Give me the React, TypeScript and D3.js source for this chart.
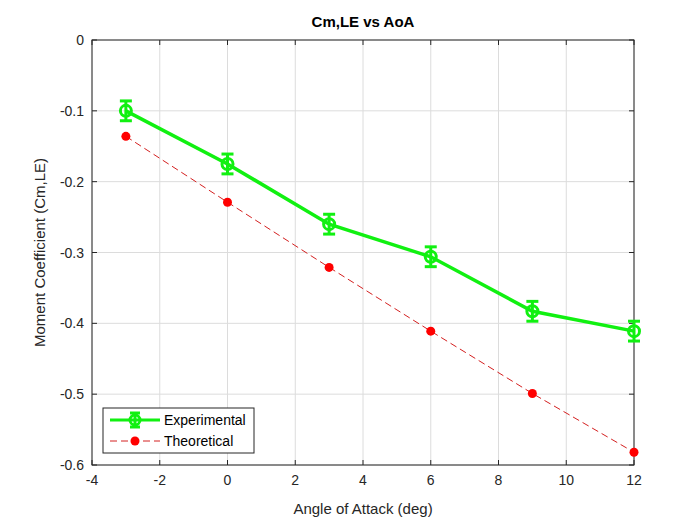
import React from "react";
import * as d3 from "d3";

const aoa = [-3, 0, 3, 6, 9, 12];
const experimental = [-0.1, -0.175, -0.26, -0.306, -0.383, -0.411];
const expError = [0.014, 0.014, 0.014, 0.014, 0.014, 0.014];
const theoretical = [-0.136, -0.229, -0.321, -0.411, -0.499, -0.582];
const xTicks = [-4, -2, 0, 2, 4, 6, 8, 10, 12];
const yTicks = [0, -0.1, -0.2, -0.3, -0.4, -0.5, -0.6];

const W = 700, H = 525;
const L = 92, R = 634, T = 40, B = 465;
const font = "'Liberation Sans', Arial, sans-serif";
const green = "#11f011";
const red = "#ff0000";
const dashRed = "#d42020";

export default function App() {
  const x = d3.scaleLinear().domain([-4, 12]).range([L, R]);
  const y = d3.scaleLinear().domain([-0.6, 0]).range([B, T]);
  const line = d3.line<number>().x((_, i) => x(aoa[i])).y((d) => y(d));
  const tk = 5;
  return (
    <svg width={W} height={H} style={{ position: "absolute", left: 0, top: 0, background: "#fff" }}>
      <rect x={0} y={0} width={W} height={H} fill="#fff" />
      {xTicks.map((t) => (
        <line key={"gx" + t} x1={x(t)} x2={x(t)} y1={T} y2={B} stroke="#dcdcdc" strokeWidth={1} />
      ))}
      {yTicks.map((t) => (
        <line key={"gy" + t} x1={L} x2={R} y1={y(t)} y2={y(t)} stroke="#dcdcdc" strokeWidth={1} />
      ))}
      <rect x={L} y={T} width={R - L} height={B - T} fill="none" stroke="#262626" strokeWidth={1} />
      {xTicks.map((t) => (
        <g key={"tx" + t}>
          <line x1={x(t)} x2={x(t)} y1={B} y2={B - tk} stroke="#262626" />
          <line x1={x(t)} x2={x(t)} y1={T} y2={T + tk} stroke="#262626" />
          <text x={x(t)} y={B + 20} textAnchor="middle" fontFamily={font} fontSize={14} fill="#262626">{t}</text>
        </g>
      ))}
      {yTicks.map((t) => (
        <g key={"ty" + t}>
          <line x1={L} x2={L + tk} y1={y(t)} y2={y(t)} stroke="#262626" />
          <line x1={R} x2={R - tk} y1={y(t)} y2={y(t)} stroke="#262626" />
          <text x={L - 8} y={y(t) + 5} textAnchor="end" fontFamily={font} fontSize={14} fill="#262626">{t === 0 ? "0" : String(t)}</text>
        </g>
      ))}
      <text x={(L + R) / 2} y={27} textAnchor="middle" fontFamily={font} fontSize={15} fontWeight="bold" fill="#000">Cm,LE vs AoA</text>
      <text x={(L + R) / 2} y={514} textAnchor="middle" fontFamily={font} fontSize={15} fill="#262626">Angle of Attack (deg)</text>
      <text transform={`translate(45,${(T + B) / 2}) rotate(-90)`} textAnchor="middle" fontFamily={font} fontSize={15} fill="#262626">Moment Coefficient (Cm,LE)</text>

      <path d={line(theoretical) || ""} fill="none" stroke={dashRed} strokeWidth={1} strokeDasharray="7,4" />
      {theoretical.map((v, i) => (
        <circle key={"t" + i} cx={x(aoa[i])} cy={y(v)} r={4.5} fill={red} />
      ))}

      <path d={line(experimental) || ""} fill="none" stroke={green} strokeWidth={3.5} />
      {experimental.map((v, i) => {
        const cx = x(aoa[i]);
        const y1 = y(v + expError[i]);
        const y2 = y(v - expError[i]);
        return (
          <g key={"e" + i} stroke={green} strokeWidth={3}>
            <line x1={cx} x2={cx} y1={y1} y2={y2} />
            <line x1={cx - 6} x2={cx + 6} y1={y1} y2={y1} />
            <line x1={cx - 6} x2={cx + 6} y1={y2} y2={y2} />
            <circle cx={cx} cy={y(v)} r={5.5} fill="none" />
          </g>
        );
      })}

      <g>
        <rect x={103} y={408} width={151} height={45} fill="#fff" stroke="#262626" strokeWidth={1} />
        <g stroke={green} strokeWidth={3}>
          <line x1={110} x2={160} y1={420} y2={420} />
          <line x1={135} x2={135} y1={413} y2={427} />
          <line x1={130} x2={140} y1={413} y2={413} />
          <line x1={130} x2={140} y1={427} y2={427} />
          <circle cx={135} cy={420} r={5} fill="none" />
        </g>
        <text x={164} y={425} fontFamily={font} fontSize={14} fill="#000">Experimental</text>
        <line x1={110} x2={160} y1={441} y2={441} stroke={dashRed} strokeWidth={1} strokeDasharray="7,4" />
        <circle cx={135} cy={441} r={4.5} fill={red} />
        <text x={164} y={446} fontFamily={font} fontSize={14} fill="#000">Theoretical</text>
      </g>
    </svg>
  );
}
